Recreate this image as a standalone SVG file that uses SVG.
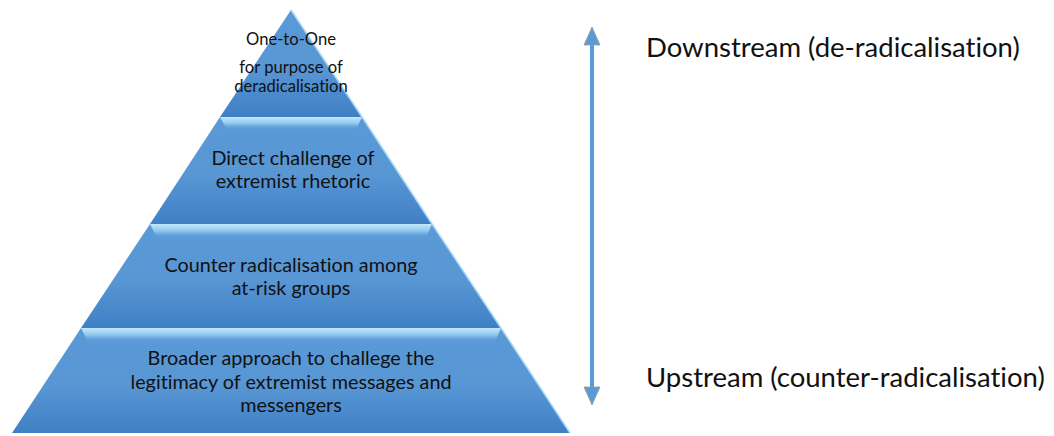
<svg xmlns="http://www.w3.org/2000/svg" width="1054" height="436" viewBox="0 0 1054 436">
<style>
.t{font-family:Lato,"Open Sans","Liberation Sans",sans-serif;font-size:19.8px;fill:#111;text-anchor:middle;font-variant-ligatures:none;font-feature-settings:"liga" 0,"clig" 0,"dlig" 0}
.s{font-size:16.6px}
.r{font-family:Lato,"Open Sans","Liberation Sans",sans-serif;font-size:27.5px;fill:#111;font-variant-ligatures:none;font-feature-settings:"liga" 0,"clig" 0,"dlig" 0}
.tier{fill:url(#g)}
.bev{fill:url(#b)}
.edge{stroke:#a6d8f7;stroke-width:1.5;fill:none}
</style>
<defs>
<linearGradient id="g" x1="0" y1="0" x2="0" y2="1">
<stop offset="0" stop-color="#5a9ad7"/>
<stop offset="0.55" stop-color="#5896d4"/>
<stop offset="1" stop-color="#3f80c5"/>
</linearGradient>
<linearGradient id="b" x1="0" y1="0" x2="0" y2="1">
<stop offset="0" stop-color="#c2e8fb"/>
<stop offset="0.5" stop-color="#8fc8ee"/>
<stop offset="1" stop-color="#5d9cd8" stop-opacity="0"/>
</linearGradient>
</defs>
<g id="tier1">
<polygon class="tier" points="291,10 362,117 220,117"/>
<line class="edge" x1="291" y1="10" x2="362" y2="117"/>
<text class="t s" x="291" y="45">One-to-One</text>
<text class="t s" x="291" y="73">for purpose of</text>
<text class="t s" x="291" y="92">deradicalisation</text>
</g>
<g id="tier2">
<polygon class="tier" points="220,117 362,117 432,224 150,224"/>
<polygon class="bev" points="220,117 362,117 356,130 227,130"/>
<line class="edge" x1="362" y1="117" x2="432" y2="224"/>
<text class="t" x="293" y="165">Direct challenge of</text>
<text class="t" x="293" y="188">extremist rhetoric</text>
</g>
<g id="tier3">
<polygon class="tier" points="150,224 432,224 501,328 81,328"/>
<polygon class="bev" points="150,224 432,224 426,238 157,238"/>
<line class="edge" x1="432" y1="224" x2="501" y2="328"/>
<text class="t" x="291" y="272">Counter radicalisation among</text>
<text class="t" x="291" y="295">at-risk groups</text>
</g>
<g id="tier4">
<polygon class="tier" points="81,328 501,328 570,433 12,433"/>
<polygon class="bev" points="81,328 501,328 495,342 88,342"/>
<line class="edge" x1="501" y1="328" x2="570" y2="433"/>
<text class="t" x="291" y="365">Broader approach to challege the</text>
<text class="t" x="291" y="389">legitimacy of extremist messages and</text>
<text class="t" x="291" y="412">messengers</text>
</g>
<g id="connectors">
<line x1="592" y1="44" x2="592" y2="388" stroke="#5b9bd5" stroke-width="4"/>
<polygon points="592,27 584,45 600,45" fill="#5b9bd5" stroke="#9a9a9a" stroke-width="0.8"/>
<polygon points="592,405 584,387 600,387" fill="#5b9bd5" stroke="#9a9a9a" stroke-width="0.8"/>
</g>
<g id="labels">
<text class="r" x="646" y="57">Downstream (de-radicalisation)</text>
<text class="r" x="646" y="387">Upstream (counter-radicalisation)</text>
</g>
</svg>
